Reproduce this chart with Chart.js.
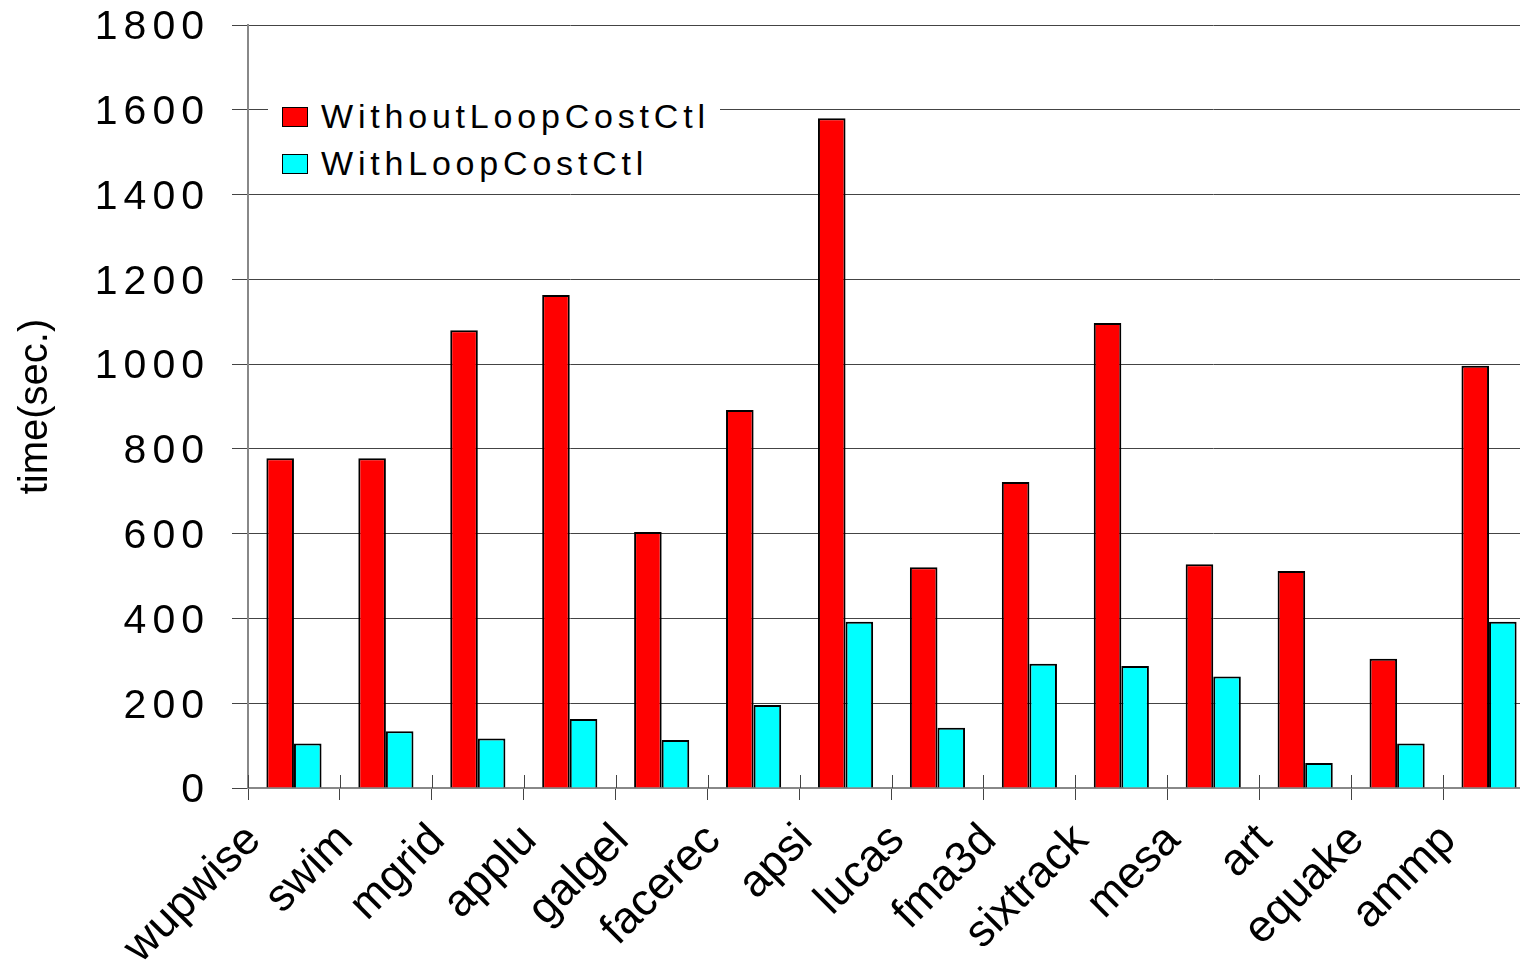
<!DOCTYPE html>
<html>
<head>
<meta charset="utf-8">
<script src="https://cdn.jsdelivr.net/npm/chart.js@4"></script>
<style>
  body { margin: 0; background: #fff; overflow: hidden; }
  #wrap { position: relative; width: 1520px; height: 960px; overflow: hidden; }
  #legend { position: absolute; left: 268px; top: 93px; width: 452px; height: 94px; background: #fff;
            font-family: "Liberation Sans", Arial, sans-serif; font-size: 34px; letter-spacing: 4.8px; color: #000; }
  .row { position: absolute; left: 14px; display: flex; align-items: center; }
  .sw { width: 24px; height: 18px; border: 1.5px solid #000; margin-right: 13px; }
</style>
</head>
<body>
<div id="wrap">
  <canvas id="chartCanvas" width="1535" height="960"></canvas>
  <div id="legend"></div>
</div>
<script>
// benchmark run times
const benchmarks = ['wupwise', 'swim', 'mgrid', 'applu', 'galgel', 'facerec', 'apsi',
                    'lucas', 'fma3d', 'sixtrack', 'mesa', 'art', 'equake', 'ammp'];
const withoutCtl = [778, 778, 1080, 1163, 604, 892, 1580, 521, 722, 1097, 528, 512, 305, 996];
const withCtl = [105, 134, 117, 163, 113, 196, 392, 142, 293, 288, 263, 59, 105, 392];
const seriesNames = ['WithoutLoopCostCtl', 'WithLoopCostCtl'];
const seriesColors = ['#ff0000', '#00ffff'];
const yTicks = [0, 200, 400, 600, 800, 1000, 1200, 1400, 1600, 1800];

const font = '"Liberation Sans", Arial, sans-serif';

// no letter spacing by default; the y tick numbers get some (see below)
const textReset = {
    id: 'textReset',
    beforeUpdate(chart) { chart.ctx.letterSpacing = '0px'; },
    beforeDraw(chart) { chart.ctx.letterSpacing = '0px'; }
};

// short category ticks that cross the x axis
const crossTicks = {
    id: 'crossTicks',
    afterDraw(chart) {
        const xs = chart.scales.x;
        const ctx = chart.ctx;
        const step = xs.width / benchmarks.length;
        ctx.save();
        ctx.strokeStyle = '#444';
        ctx.lineWidth = 1;
        for (let i = 0; i <= benchmarks.length; i++) {
            const x = Math.round(xs.left + i * step) + 0.5;
            ctx.beginPath();
            ctx.moveTo(x, xs.top - 13);
            ctx.lineTo(x, xs.top);
            ctx.stroke();
        }
        ctx.restore();
    }
};

const ctx = document.getElementById('chartCanvas').getContext('2d');
const chart = new Chart(ctx, {
    type: 'bar',
    data: {
        labels: benchmarks,
        datasets: [{
            label: seriesNames[0],
            data: withoutCtl,
            backgroundColor: seriesColors[0],
            borderColor: '#000',
            borderWidth: 2
        }, {
            label: seriesNames[1],
            data: withCtl,
            backgroundColor: seriesColors[1],
            borderColor: '#000',
            borderWidth: 2
        }]
    },
    options: {
        responsive: false,
        animation: false,
        devicePixelRatio: 1,
        layout: { padding: { top: 25, left: 0, right: 0, bottom: 0 } },
        datasets: { bar: { categoryPercentage: 0.6, barPercentage: 1.0 } },
        scales: {
            x: {
                offset: true,
                grid: { offset: true, drawOnChartArea: false, drawTicks: true, tickLength: 12, color: '#444' },
                border: { display: true, color: '#888', width: 2 },
                ticks: {
                    color: '#000',
                    font: { family: font, size: 45 },
                    minRotation: 45,
                    maxRotation: 45,
                    labelOffset: -40,
                    padding: 14,
                    autoSkip: false
                },
                afterFit(scale) {
                    scale.height = 172;
                    scale.paddingLeft = 0;
                    scale.paddingRight = 0;
                }
            },
            y: {
                min: 0,
                max: 1800,
                afterBuildTicks(scale) { scale.ticks = yTicks.map(v => ({ value: v })); },
                grid: { color: '#444', lineWidth: 1, tickLength: 16 },
                border: { display: true, color: '#888', width: 2 },
                ticks: {
                    color: '#000',
                    font: { family: font, size: 41 },
                    padding: 22,
                    labelOffset: 3,
                    callback: v => String(v)
                },
                title: {
                    display: true,
                    text: 'time(sec.)',
                    color: '#000',
                    font: { family: font, size: 40 },
                    padding: { top: 12, bottom: 0 }
                },
                afterFit(scale) {
                    scale.width = 248;
                    scale.paddingTop = 0;
                    scale.paddingBottom = 0;
                },
                afterUpdate(scale) {
                    // wide-looking numbers on the value axis
                    if (scale._spaced) return;
                    scale._spaced = true;
                    const drawLabels = scale.drawLabels.bind(scale);
                    scale.drawLabels = function (area) {
                        scale.ctx.letterSpacing = '6px';
                        drawLabels(area);
                        scale.ctx.letterSpacing = '0px';
                    };
                }
            }
        },
        plugins: {
            legend: { display: false },
            tooltip: { enabled: false }
        }
    },
    plugins: [textReset, crossTicks]
});

// legend drawn as html over the chart, white box like the original
const legendEl = document.getElementById('legend');
chart.data.datasets.forEach(function (ds, i) {
    const row = document.createElement('div');
    row.className = 'row';
    row.style.top = (i * 47 + 4) + 'px';
    row.innerHTML = '<div class="sw" style="background:' + ds.backgroundColor + '"></div><span>' + ds.label + '</span>';
    legendEl.appendChild(row);
});
</script>
</body>
</html>
